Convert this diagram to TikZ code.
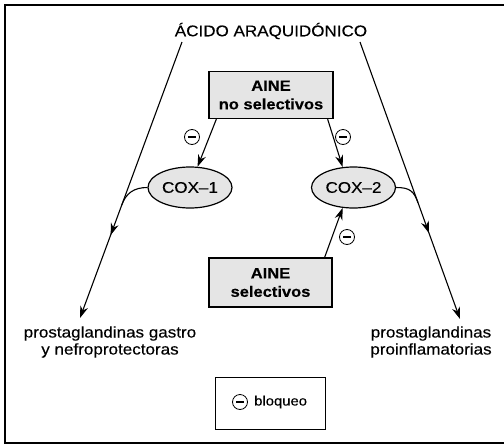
\documentclass[tikz,border=0pt]{standalone}
\usepackage{fontspec}
\setmainfont{Liberation Sans}[FakeStretch=1.1, FakeBold=0.25]
\usetikzlibrary{arrows.meta,decorations.markings,calc,shapes.geometric}
\begin{document}
\begin{tikzpicture}[x=1pt,y=-1pt,
  every node/.style={font=\fontsize{15.5}{17}\selectfont, inner sep=0pt},
  tip/.style={-{Stealth[length=12pt,width=8pt]}},
  link/.style={line width=1.1pt},
  greybox/.style={draw, line width=1.3pt, fill=gray!20, minimum width=124pt, minimum height=47pt, align=center, font=\fontsize{15}{18.5}\selectfont\bfseries},
  enz/.style={draw, ellipse, line width=1.2pt, fill=gray!20, minimum width=84pt, minimum height=41pt},
  minus/.style={circle, draw, line width=0.8pt, minimum size=15pt, inner sep=0pt,
    path picture={\draw[line width=1.1pt] ([xshift=-4pt]path picture bounding box.center) -- ([xshift=4pt]path picture bounding box.center);}},
  midarrow/.style={postaction={decorate}, decoration={markings, mark=at position #1 with {\arrow{Stealth[length=12pt,width=8pt]}}}},
]
\useasboundingbox (0,0) rectangle (504,445);
% frame (open on the right)
\draw[line width=1.4pt] (504,5) -- (5,5) -- (5,443) -- (504,443);

% nodes
\node (acido) at (271,31) {ÁCIDO ARAQUIDÓNICO};
\node[greybox] (nosel) at (271,95) {AINE\\no selectivos};
\node[greybox, minimum width=123pt, minimum height=49pt] (sel) at (270.5,282.5) {AINE\\selectivos};
\node[enz] (cox1) at (190,187.5) {COX–1};
\node[enz] (cox2) at (353.5,187.5) {COX–2};
\node[align=center] (pgl) at (110,342) {prostaglandinas gastro\\y nefroprotectoras};
\node[align=center] (pgr) at (431,342) {prostaglandinas\\proinflamatorias};

% long pathways
\coordinate (la) at (182,42);
\coordinate (lb) at (80,318);
\coordinate (ra) at (360,42);
\coordinate (rb) at (460,319);
\coordinate (jl) at ($(la)!0.59!(lb)$);
\coordinate (jr) at ($(ra)!0.58!(rb)$);
\draw[link, midarrow=0.70, tip] (la) -- (lb);
\draw[link, midarrow=0.69, tip] (ra) -- (rb);

% COX joins
\draw[link] (cox1.west) .. controls ($(cox1.west)+(-14,0)$) and ($(jl)+(4.2,-11.3)$) .. (jl);
\draw[link] (cox2.east) .. controls ($(cox2.east)+(14,0)$) and ($(jr)+(-4.1,-11.3)$) .. (jr);

% inhibitions
\draw[link, tip] ([xshift=8pt]nosel.south west) -- (cox1.70);
\draw[link, tip] ([xshift=-6pt]nosel.south east) -- (cox2.118);
\draw[link, tip] ([xshift=-8pt]sel.north east) -- (cox2.242);
\node[minus] (m1) at (192,137) {};
\node[minus] (m2) at (343,137) {};
\node[minus] (m3) at (347,237) {};

% legend
\node[draw, line width=0.9pt, minimum width=110pt, minimum height=52pt] (leg) at (270,403) {};
\node[minus] (lm) at (240,402) {};
\node[font=\fontsize{13.5}{15}\selectfont, anchor=west] (blq) at (254,402) {bloqueo};
\end{tikzpicture}
\end{document}
